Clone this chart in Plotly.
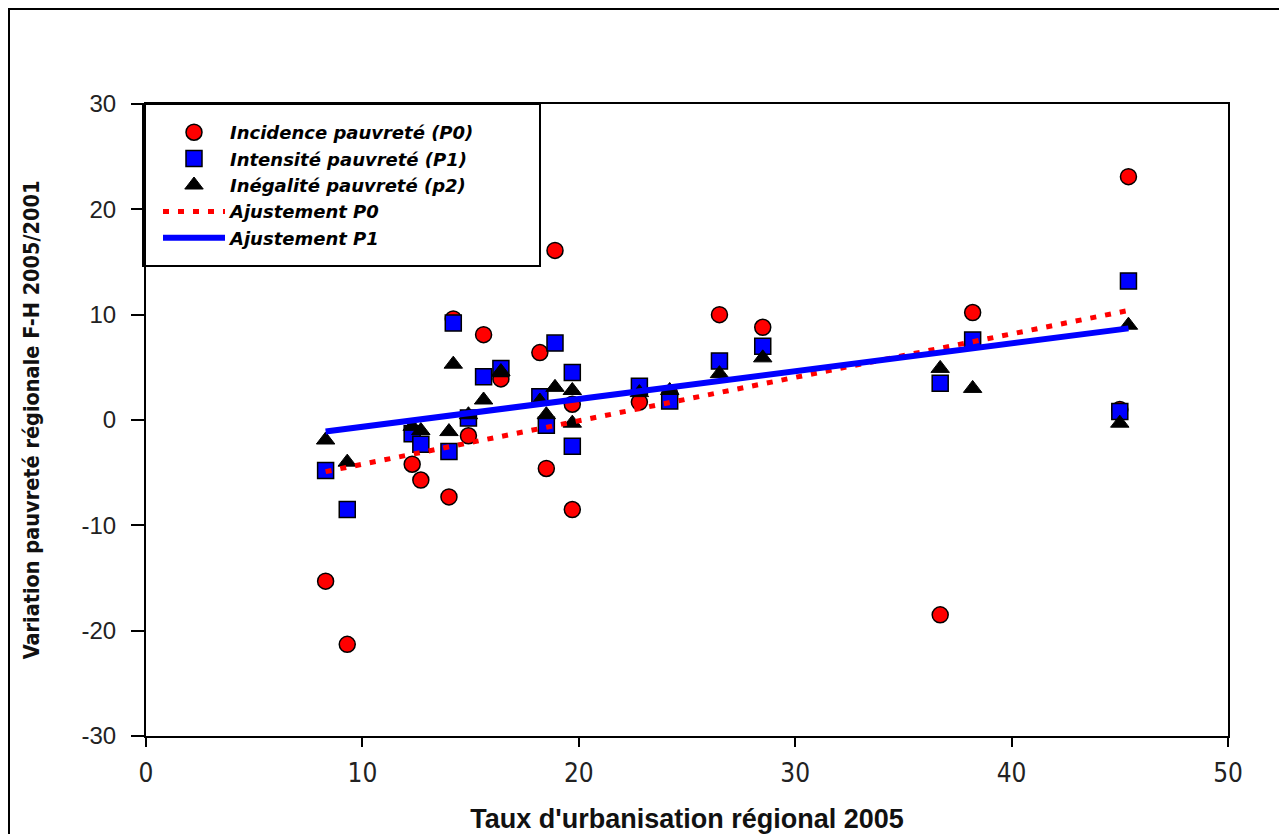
import plotly.graph_objects as go

# Regions: urbanisation rate 2005 (x) and variation of poverty indicators F-H 2005/2001
urbanisation = [8.3, 9.3, 12.3, 12.7, 14.0, 14.2, 14.9, 15.6, 16.4, 18.2, 18.5,
                18.9, 19.7, 19.7, 22.8, 24.2, 26.5, 28.5, 36.7, 38.2, 45.0, 45.4]
incidence_p0 = [-15.3, -21.3, -4.2, -5.7, -7.3, 9.6, -1.5, 8.1, 3.9, 6.4, -4.6,
                16.1, 1.5, -8.5, 1.7, 2.5, 10.0, 8.8, -18.5, 10.2, 1.0, 23.1]
intensite_p1 = [-4.8, -8.5, -1.3, -2.3, -3.0, 9.2, 0.2, 4.1, 4.9, 2.2, -0.5,
                7.3, 4.5, -2.5, 3.2, 1.8, 5.6, 7.0, 3.5, 7.6, 0.8, 13.2]
inegalite_p2 = [-1.9, -4.0, -0.6, -1.0, -1.1, 5.3, 0.5, 1.9, 4.6, 1.8, 0.5,
                3.1, 2.8, -0.3, 2.6, 2.8, 4.4, 5.9, 4.9, 3.0, -0.3, 9.0]

# Fitted lines (end points)
fit_x = [8.3, 45.4]
fit_p0 = [-4.9, 10.4]
fit_p1 = [-1.1, 8.7]

x_ticks = [0, 10, 20, 30, 40, 50]
x_ticktext = ["0", "10", "20", "30", "40", "50"]
y_ticks = [-30, -20, -10, 0, 10, 20, 30]
y_ticktext = ["-30", "-20", "-10", "0", "10", "20", "30"]

FONT = "Liberation Sans, Arial, sans-serif"
NARROW = "Liberation Sans Narrow, Arial Narrow, DejaVu Sans Condensed, sans-serif"
WIDE = "DejaVu Sans, Verdana, sans-serif"

fig = go.Figure()
fig.add_trace(go.Scatter(
    x=urbanisation, y=incidence_p0, mode="markers", name="Incidence pauvreté (P0)",
    marker=dict(symbol="circle", size=16, color="#ff0000", line=dict(color="black", width=1.5))))
fig.add_trace(go.Scatter(
    x=urbanisation, y=intensite_p1, mode="markers", name="Intensité pauvreté (P1)",
    marker=dict(symbol="square", size=16, color="#0000ff", line=dict(color="black", width=1.5))))
fig.add_trace(go.Scatter(
    x=urbanisation, y=inegalite_p2, mode="markers", name="Inégalité pauvreté (p2)",
    marker=dict(symbol="triangle-up", size=16, color="black", line=dict(color="black", width=1))))
fig.add_trace(go.Scatter(
    x=fit_x, y=fit_p0, mode="lines", name="Ajustement P0",
    line=dict(color="#ff0000", width=5, dash="6px,9px")))
fig.add_trace(go.Scatter(
    x=fit_x, y=fit_p1, mode="lines", name="Ajustement P1",
    line=dict(color="#0000ff", width=6)))

# page offset of the figure (body margin)
OFF = 8
W, H = 1279, 826
L, T = 146 - OFF, 104 - OFF
R = W - (1228 - OFF)
B = H - (736 - OFF)
pw, ph = W - L - R, H - T - B

def fx(page_x):
    return (page_x - OFF - L) / pw

def fy(page_y):
    return (H - B - (page_y - OFF)) / ph

fig.update_layout(
    width=W, height=H,
    margin=dict(l=L, r=R, t=T, b=B, autoexpand=False),
    paper_bgcolor="white", plot_bgcolor="white",
    showlegend=True,
    legend=dict(
        x=fx(158), y=fy(114), xanchor="left", yanchor="top",
        bgcolor="rgba(0,0,0,0)", borderwidth=0,
        itemwidth=62,
        font=dict(family=WIDE, size=18, color="black", style="italic", weight="bold"),
    ),
    xaxis=dict(
        range=[0, 50], tickvals=x_ticks, ticktext=x_ticktext,
        showgrid=False, zeroline=False, automargin=False,
        showline=True, linecolor="black", linewidth=2, mirror=True,
        ticks="outside", ticklen=9, tickwidth=2, tickcolor="black",
        ticklabelstandoff=4,
        tickfont=dict(family=NARROW, size=26, color="#222"),
        title=dict(text="Taux d'urbanisation régional 2005", standoff=24,
                   font=dict(family=FONT, size=27, color="#111", weight="bold")),
    ),
    yaxis=dict(
        range=[-30, 30], tickvals=y_ticks, ticktext=y_ticktext,
        showgrid=False, zeroline=False, automargin=False,
        showline=True, linecolor="black", linewidth=2, mirror=True,
        ticks="outside", ticklen=13, tickwidth=2, tickcolor="black",
        ticklabelstandoff=10,
        tickfont=dict(family=FONT, size=24, color="#222"),
        title=dict(text="Variation pauvreté régionale F-H 2005/2001", standoff=36,
                   font=dict(family=NARROW, size=21.5, color="#111", weight="bold")),
    ),
    shapes=[
        # legend frame
        dict(type="rect", xref="paper", yref="paper",
             x0=fx(143), x1=fx(540), y0=fy(266), y1=fy(104),
             line=dict(color="black", width=2), fillcolor="rgba(0,0,0,0)", layer="above"),
        # outer frame (left and top edges)
        dict(type="path", xref="paper", yref="paper",
             path=f"M {fx(9)},{fy(900)} L {fx(9)},{fy(9)} L {fx(1300)},{fy(9)}",
             line=dict(color="black", width=2)),
    ],
)

fig.write_html("out.html")
